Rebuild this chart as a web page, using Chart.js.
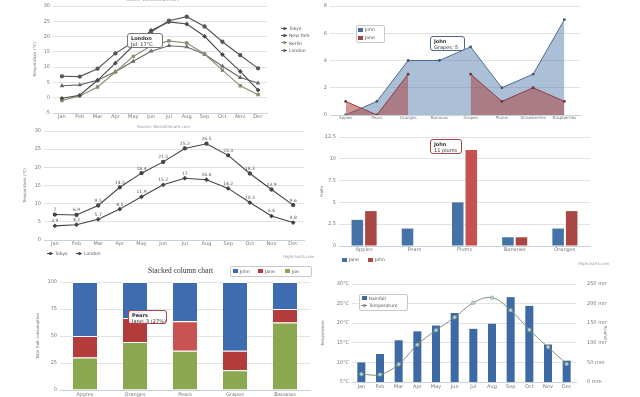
<!DOCTYPE html>
<html>
<head>
<meta charset="utf-8">
<title>Chart sheet</title>
<script src="https://cdn.jsdelivr.net/npm/chart.js@4.4.1/dist/chart.umd.min.js"></script>
<style>
  body { margin: 0; background: #fff; }
  #sheet { position: relative; width: 640px; height: 397px; overflow: hidden; background: #fff; font-family: "DejaVu Sans", sans-serif; }
  #sheet canvas { position: absolute; }
  .txt { position: absolute; font-size: 4.5px; line-height: 6px; color: #555; white-space: nowrap; }
  .small { font-size: 4px; color: #999; }
  .box { position: absolute; box-sizing: border-box; border: 1px solid #c8c8c8; border-radius: 2px; background: #fff; }
  .tip { position: absolute; box-sizing: border-box; background: rgba(255,255,255,0.92); border: 1px solid #888; border-radius: 3px; padding: 1px 3px; font-size: 5px; line-height: 6px; color: #333; white-space: nowrap; }
  .tip b { display: block; }
  .sq { display: inline-block; width: 5px; height: 4px; margin-right: 2px; vertical-align: -0.5px; }
  .ln { display: inline-block; position: relative; width: 6px; height: 1px; margin-right: 2px; vertical-align: 1.5px; }
  .ln::after { content: ""; position: absolute; left: 1.5px; top: -1px; width: 3px; height: 3px; border-radius: 50%; background: inherit; }
  .heading { position: absolute; font-family: "Liberation Serif", serif; font-size: 7.5px; color: #333; white-space: nowrap; }
</style>
</head>
<body>
<div id="sheet">
  <canvas id="basicLine" width="320" height="125" style="left:0;top:0"></canvas>
  <canvas id="missingArea" width="320" height="125" style="left:320px;top:0"></canvas>
  <canvas id="labelledLine" width="320" height="140" style="left:0;top:125px"></canvas>
  <canvas id="fruitColumns" width="320" height="140" style="left:320px;top:125px"></canvas>
  <canvas id="percentStack" width="320" height="137" style="left:0;top:260px"></canvas>
  <canvas id="dualAxes" width="320" height="127" style="left:320px;top:270px"></canvas>

  <!-- top left -->
  <div class="txt small" style="left:126px;top:-3px">Source: WorldClimate.com</div>
  <div class="txt" style="left:281px;top:26px"><span class="ln" style="background:#555"></span>Tokyo</div>
  <div class="txt" style="left:281px;top:33px"><span class="ln" style="background:#4a4a4a"></span>New York</div>
  <div class="txt" style="left:281px;top:40.5px"><span class="ln" style="background:#8b8b70"></span>Berlin</div>
  <div class="txt" style="left:281px;top:48px"><span class="ln" style="background:#6a6a6a"></span>London</div>
  <div class="tip" style="left:127px;top:33px;width:36px;height:15px;border-color:#777"><b>London</b>Jul: 17°C</div>

  <!-- top right -->
  <div class="box" style="left:356px;top:25px;width:29px;height:18px"></div>
  <div class="txt" style="left:358px;top:27px"><span class="sq" style="background:#4a6a95"></span>John</div>
  <div class="txt" style="left:358px;top:35px"><span class="sq" style="background:#9a4450"></span>Jane</div>
  <div class="tip" style="left:430px;top:36px;width:35px;height:15px;border-color:#4a6a95"><b>John</b>Grapes: 5</div>

  <!-- middle left -->
  <div class="txt small" style="left:137px;top:124px">Source: WorldClimate.com</div>
  <div class="txt" style="left:47px;top:251px"><span class="ln" style="background:#444"></span>Tokyo</div>
  <div class="txt" style="left:76px;top:251px"><span class="ln" style="background:#444"></span>London</div>
  <div class="txt small" style="left:283px;top:254px">Highcharts.com</div>

  <!-- middle right -->
  <div class="txt" style="left:342px;top:257px"><span class="sq" style="background:#4572a7"></span>Jane</div>
  <div class="txt" style="left:368px;top:257px"><span class="sq" style="background:#aa4643"></span>John</div>
  <div class="txt small" style="left:578px;top:261px">Highcharts.com</div>
  <div class="tip" style="left:430px;top:139px;width:32px;height:15px;border-color:#aa4643"><b>John</b>11 plums</div>

  <!-- bottom left -->
  <div class="heading" style="left:148px;top:266px">Stacked column chart</div>
  <div class="box" style="left:230px;top:266px;width:82px;height:11px"></div>
  <div class="txt" style="left:233px;top:268.5px"><span class="sq" style="background:#3d6db0"></span>John</div>
  <div class="txt" style="left:258px;top:268.5px"><span class="sq" style="background:#b33b3b"></span>Jane</div>
  <div class="txt" style="left:285px;top:268.5px"><span class="sq" style="background:#8aa84f"></span>Joe</div>
  <div class="tip" style="left:128px;top:310px;width:39px;height:14px;border-color:#aa4643"><b>Pears</b>Jane: 3 (27%)</div>

  <!-- bottom right -->
  <div class="box" style="left:359px;top:294px;width:49px;height:17px"></div>
  <div class="txt" style="left:362px;top:295.5px"><span class="sq" style="background:#3d6aa5"></span>Rainfall</div>
  <div class="txt" style="left:361px;top:303px"><span class="ln" style="background:#8a8a7c"></span>Temperature</div>
</div>

<script>
const months = ['Jan', 'Feb', 'Mar', 'Apr', 'May', 'Jun', 'Jul', 'Aug', 'Sep', 'Oct', 'Nov', 'Dec'];

// basic line
const tokyoTemps = [7.0, 6.9, 9.5, 14.5, 18.2, 21.5, 25.2, 26.5, 23.3, 18.3, 13.9, 9.6];
const newYorkTemps = [-0.2, 0.8, 5.7, 11.3, 17.0, 22.0, 24.8, 24.1, 20.1, 14.1, 8.6, 2.5];
const berlinTemps = [-0.9, 0.6, 3.5, 8.4, 13.5, 17.0, 18.6, 17.9, 14.3, 9.0, 3.9, 1.0];
const londonTemps = [3.9, 4.2, 5.7, 8.5, 11.9, 15.2, 17.0, 16.6, 14.2, 10.3, 6.6, 4.8];
const basicTempTicks = [-5, 0, 5, 10, 15, 20, 25, 30];

// area with a missing point
const areaFruits = ['Apples', 'Pears', 'Oranges', 'Bananas', 'Grapes', 'Plums', 'Strawberries', 'Raspberries'];
const johnArea = [0, 1, 4, 4, 5, 2, 3, 7];
const janeArea = [1, 0, 3, null, 3, 1, 2, 1];
const areaTicks = [0, 2, 4, 6, 8];

// line with data labels
const tokyoLabelled = [7.0, 6.9, 9.5, 14.5, 18.4, 21.5, 25.2, 26.5, 23.3, 18.3, 13.9, 9.6];
const londonLabelled = [3.9, 4.2, 5.7, 8.5, 11.9, 15.2, 17.0, 16.6, 14.2, 10.3, 6.6, 4.8];
const labelledTicks = [0, 5, 10, 15, 20, 25, 30];

// columns
const columnFruits = ['Apples', 'Pears', 'Plums', 'Bananas', 'Oranges'];
const janeColumns = [3, 2, 5, 1, 2];
const johnColumns = [4, 0, 11, 1, 4];
const columnTicks = [0, 2.5, 5, 7.5, 10, 12.5];

// percent stacked columns
const stackFruits = ['Apples', 'Oranges', 'Pears', 'Grapes', 'Bananas'];
const johnStack = [5, 3, 4, 7, 2];
const janeStack = [2, 2, 3, 2, 1];
const joeStack = [3, 4, 4, 2, 5];
const percentTicks = [0, 25, 50, 75, 100];

// dual axes
const rainfall = [49.9, 71.5, 106.4, 129.2, 144.0, 176.0, 135.6, 148.5, 216.4, 194.1, 95.6, 54.4];
const comboTemps = [7.0, 6.9, 9.5, 14.5, 18.2, 21.5, 25.2, 26.5, 23.3, 18.3, 13.9, 9.6];
const comboTempTicks = [5, 10, 15, 20, 25, 30];
const rainTicks = [0, 50, 100, 150, 200, 250];

Chart.defaults.font.family = '"DejaVu Sans", sans-serif';
Chart.defaults.font.size = 5;
Chart.defaults.color = '#777';
Chart.defaults.animation = false;
Chart.defaults.responsive = false;
Chart.defaults.plugins.legend.display = false;
Chart.defaults.plugins.tooltip.enabled = false;

function categoryAxis(labelGap, height, fontSize) {
  return {
    offset: true,
    grid: { display: false, drawTicks: false },
    border: { color: '#c9d3dd' },
    ticks: { padding: labelGap, maxRotation: 0, autoSkip: false, font: { size: fontSize || 5 } },
    afterFit(scale) { scale.height = height; }
  };
}

function valueAxis(tickValues, width, title, format) {
  return {
    type: 'linear',
    min: tickValues[0],
    max: tickValues[tickValues.length - 1],
    grid: { color: '#e3e3e3', drawTicks: false },
    border: { display: false },
    ticks: { padding: 3, callback: format || (v => String(v)) },
    title: { display: !!title, text: title, padding: 0, color: '#777', font: { size: 4 } },
    afterBuildTicks(scale) { scale.ticks = tickValues.map(v => ({ value: v })); },
    afterFit(scale) { scale.width = width; }
  };
}

function lineSet(label, data, color, marker) {
  return {
    label: label,
    data: data,
    borderColor: color,
    backgroundColor: color,
    borderWidth: 1.1,
    pointRadius: 1.6,
    pointStyle: marker,
    tension: 0
  };
}

// values written above each point (middle left chart)
const pointValues = {
  id: 'pointValues',
  afterDatasetsDraw(chart) {
    const ctx = chart.ctx;
    ctx.save();
    ctx.font = '4.5px "DejaVu Sans", sans-serif';
    ctx.fillStyle = '#555';
    ctx.textAlign = 'center';
    ctx.textBaseline = 'bottom';
    chart.data.datasets.forEach(function (ds, i) {
      chart.getDatasetMeta(i).data.forEach(function (pt, j) {
        ctx.fillText(String(ds.data[j]), pt.x, pt.y - 2.5);
      });
    });
    ctx.restore();
  }
};

new Chart('basicLine', {
  type: 'line',
  data: {
    labels: months,
    datasets: [
      lineSet('Tokyo', tokyoTemps, '#555', 'circle'),
      lineSet('New York', newYorkTemps, '#4a4a4a', 'rectRot'),
      lineSet('Berlin', berlinTemps, '#8b8b70', 'rect'),
      lineSet('London', londonTemps, '#6a6a6a', 'triangle')
    ]
  },
  options: {
    layout: { padding: { left: 33, top: 5, right: 53, bottom: 0 } },
    scales: {
      x: categoryAxis(1, 12),
      y: valueAxis(basicTempTicks, 20, 'Temperature (°C)')
    }
  }
});

new Chart('missingArea', {
  type: 'line',
  data: {
    labels: areaFruits,
    datasets: [{
      label: 'John',
      data: johnArea,
      order: 2,
      fill: 'origin',
      borderColor: '#4d6a90',
      backgroundColor: 'rgba(69,114,167,0.45)',
      borderWidth: 1,
      pointRadius: 1.4,
      pointBackgroundColor: '#3e5878',
      pointBorderWidth: 0,
      tension: 0
    }, {
      label: 'Jane',
      data: janeArea,
      order: 1,
      fill: 'origin',
      spanGaps: false,
      borderColor: '#8c3b45',
      backgroundColor: 'rgba(170,70,67,0.55)',
      borderWidth: 1,
      pointRadius: 1.4,
      pointBackgroundColor: '#7a3038',
      pointBorderWidth: 0,
      tension: 0
    }]
  },
  options: {
    layout: { padding: { left: 0, top: 5, right: 60, bottom: 0 } },
    scales: {
      x: categoryAxis(1, 10, 4),
      y: valueAxis(areaTicks, 10)
    }
  }
});

new Chart('labelledLine', {
  type: 'line',
  data: {
    labels: months,
    datasets: [
      lineSet('Tokyo', tokyoLabelled, '#444', 'circle'),
      lineSet('London', londonLabelled, '#444', 'rectRot')
    ]
  },
  options: {
    layout: { padding: { left: 23, top: 6, right: 16, bottom: 0 } },
    scales: {
      x: categoryAxis(1, 25),
      y: valueAxis(labelledTicks, 21, 'Temperature (°C)')
    }
  },
  plugins: [pointValues]
});

new Chart('fruitColumns', {
  type: 'bar',
  data: {
    labels: columnFruits,
    datasets: [
      { label: 'Jane', data: janeColumns, backgroundColor: '#4572a7' },
      { label: 'John', data: johnColumns, backgroundColor: ['#aa4643', '#aa4643', '#c4524e', '#aa4643', '#aa4643'] }
    ]
  },
  options: {
    datasets: { bar: { categoryPercentage: 0.54, barPercentage: 0.85 } },
    layout: { padding: { left: 0, top: 12, right: 50, bottom: 0 } },
    scales: {
      x: categoryAxis(1, 19),
      y: valueAxis(columnTicks, 19, 'Fruits')
    }
  }
});

const stackTotals = johnStack.map((v, i) => v + janeStack[i] + joeStack[i]);
const asPercent = arr => arr.map((v, i) => v / stackTotals[i] * 100);
const stackBorder = { top: 1, left: 0, right: 0, bottom: 0 };

new Chart('percentStack', {
  type: 'bar',
  data: {
    labels: stackFruits,
    datasets: [
      { label: 'Joe', data: asPercent(joeStack), backgroundColor: '#8aa84f', borderColor: '#fff', borderWidth: stackBorder },
      { label: 'Jane', data: asPercent(janeStack), backgroundColor: ['#b33b3b', '#b33b3b', '#c95352', '#b33b3b', '#b33b3b'], borderColor: '#fff', borderWidth: stackBorder },
      { label: 'John', data: asPercent(johnStack), backgroundColor: '#3d6db0', borderColor: '#fff', borderWidth: stackBorder }
    ]
  },
  options: {
    datasets: { bar: { categoryPercentage: 1, barPercentage: 0.48 } },
    layout: { padding: { left: 36, top: 22, right: 10, bottom: 0 } },
    scales: {
      x: Object.assign(categoryAxis(2, 7), { stacked: true }),
      y: Object.assign(valueAxis(percentTicks, 24, 'Total fruit consumption'), { stacked: true })
    }
  }
});

new Chart('dualAxes', {
  type: 'bar',
  data: {
    labels: months,
    datasets: [{
      type: 'bar',
      label: 'Rainfall',
      data: rainfall,
      yAxisID: 'rain',
      order: 2,
      backgroundColor: '#3d6aa5',
      categoryPercentage: 1,
      barPercentage: 0.43
    }, {
      type: 'line',
      label: 'Temperature',
      data: comboTemps,
      yAxisID: 'temp',
      order: 1,
      borderColor: '#8a8a7c',
      borderWidth: 1,
      tension: 0.4,
      pointRadius: 1.8,
      pointBackgroundColor: '#b5d5c5',
      pointBorderColor: '#8a9a90',
      pointBorderWidth: 0.6
    }]
  },
  options: {
    layout: { padding: { left: 1, top: 14, right: 33, bottom: 0 } },
    scales: {
      x: categoryAxis(2, 15),
      temp: Object.assign(valueAxis(comboTempTicks, 31, 'Temperature', v => v + '°C'), { position: 'left' }),
      rain: Object.assign(valueAxis(rainTicks, 31, 'Rainfall', v => v + ' mm'), { position: 'right', grid: { display: false } })
    }
  }
});
</script>
</body>
</html>
